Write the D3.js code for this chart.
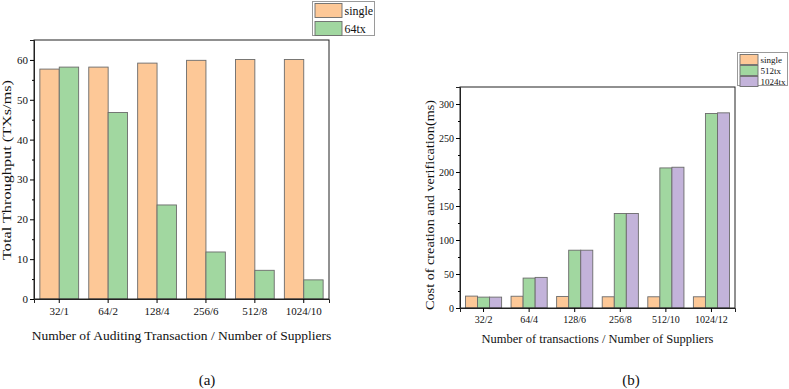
<!DOCTYPE html>
<html><head><meta charset="utf-8">
<script src="https://cdn.jsdelivr.net/npm/d3@7"></script>
<style>body{margin:0;background:#fff}svg{display:block}text{font-family:"Liberation Serif","Times New Roman",serif;fill:#111}</style>
</head><body>
<svg id="c" width="789" height="389"></svg>
<script>
// Chart (a)
const catsA = ["32/1","64/2","128/4","256/6","512/8","1024/10"];
const seriesA = ["single","64tx"];
const singleA = [57.7, 58.2, 59.2, 59.9, 60.1, 60.1];
const tx64A = [58.2, 46.8, 23.6, 11.8, 7.2, 4.8];
const ticksA = [0,10,20,30,40,50,60];
// Chart (b)
const catsB = ["32/2","64/4","128/6","256/8","512/10","1024/12"];
const seriesB = ["single","512tx","1024tx"];
const singleB = [17.5, 17.3, 17.0, 16.5, 16.5, 16.5];
const tx512B = [16, 44, 85, 139, 206, 286];
const tx1024B = [16, 45, 85, 139, 207, 287];
const ticksB = [0,50,100,150,200,250,300];

const colors = {"single":"#FDC897","64tx":"#A1D7A0","512tx":"#A1D7A0","1024tx":"#C3B3DA"};
const svg = d3.select("#c");

function chart(o){
  const {cats, series, data, domain, ticks, minor, box, tickFont, xTitle, yTitle, titleFont, yTitleFont, yTitleLen, yTitleY, yTitleX, label, labelX, legend} = o;
  const g = svg.append("g");
  const x = d3.scaleBand().domain(cats).range([box.l, box.r]).paddingInner(0.207).paddingOuter(0.12);
  const xs = d3.scaleBand().domain(series).range([0, x.bandwidth()]);
  const y = d3.scaleLinear().domain(domain).range([box.b, box.t]);
  series.forEach((s, si) => {
    g.selectAll(null).data(data[si]).enter().append("rect")
      .attr("x", (d,i) => x(cats[i]) + xs(s))
      .attr("y", d => y(d))
      .attr("width", xs.bandwidth())
      .attr("height", d => y(0) - y(d))
      .attr("fill", colors[s])
      .attr("stroke", "#6b6b6b").attr("stroke-width", 0.9);
  });
  g.append("rect").attr("x", box.l).attr("y", box.t).attr("width", box.r-box.l).attr("height", box.b-box.t)
    .attr("fill","none").attr("stroke","#222").attr("stroke-width",1);
  const ya = d3.axisLeft(y).tickValues(ticks).tickSize(4).tickPadding(2);
  const yg = g.append("g").attr("transform", `translate(${box.l},0)`).call(ya);
  yg.select(".domain").attr("stroke","#222");
  yg.selectAll("text").style("font-size", tickFont+"px").style("font-family","Liberation Serif").attr("fill","#111");
  const ym = d3.axisLeft(y).tickValues(minor).tickSize(2).tickFormat("");
  g.append("g").attr("transform", `translate(${box.l},0)`).call(ym).select(".domain").remove();
  const xa = d3.axisBottom(x).tickSize(4).tickPadding(4);
  const xg = g.append("g").attr("transform", `translate(0,${box.b})`).call(xa);
  xg.select(".domain").attr("stroke","#222");
  xg.selectAll("text").style("font-size", tickFont+"px").style("font-family","Liberation Serif").attr("fill","#111");
  g.append("text").attr("x", (box.l+box.r)/2).attr("y", o.xTitleY).attr("text-anchor","middle")
    .style("font-size", titleFont+"px").text(xTitle);
  g.append("text").attr("transform", `translate(${yTitleX},${yTitleY}) rotate(-90)`).attr("text-anchor","middle")
    .attr("dy","0.35em").attr("textLength", yTitleLen).attr("lengthAdjust","spacingAndGlyphs")
    .style("font-size", yTitleFont+"px").text(yTitle);
  g.append("text").attr("x", labelX).attr("y", 385).attr("text-anchor","middle")
    .style("font-size","15px").text(label);
  const L = legend;
  g.append("rect").attr("x", L.x).attr("y", L.y).attr("width", L.w).attr("height", L.h)
    .attr("fill","#fff").attr("stroke","#9a9a9a").attr("stroke-width",1);
  series.forEach((s, i) => {
    g.append("rect").attr("x", L.x+2.5).attr("y", L.y+2+i*L.step).attr("width", L.sw).attr("height", L.sh)
      .attr("fill", colors[s]).attr("stroke","#6b6b6b").attr("stroke-width",0.9);
    g.append("text").attr("x", L.x+5+L.sw).attr("y", L.y+2+i*L.step+L.sh/2).attr("dy","0.35em")
      .style("font-size", L.font+"px").text(s);
  });
}

chart({cats:catsA, series:seriesA, data:[singleA, tx64A], domain:[0,65], ticks:ticksA,
  minor:d3.range(5,65,10), box:{l:34,r:329,t:40,b:299}, tickFont:11,
  xTitle:"Number of Auditing Transaction / Number of Suppliers", xTitleY:340, titleFont:13.5,
  yTitle:"Total Throughput (TXs/ms)", yTitleFont:13.5, yTitleLen:180, yTitleX:6, yTitleY:170, label:"(a)", labelX:207,
  legend:{x:312.5,y:1.5,w:62,h:34,sw:27,sh:14,step:18,font:12}});

chart({cats:catsB, series:seriesB, data:[singleB, tx512B, tx1024B], domain:[0,325], ticks:ticksB,
  minor:d3.range(25,325,50), box:{l:460,r:735,t:87,b:308}, tickFont:10,
  xTitle:"Number of transactions / Number of Suppliers", xTitleY:343, titleFont:12.5,
  yTitle:"Cost of creation and verification(ms)", yTitleFont:11.5, yTitleLen:210, yTitleX:430, yTitleY:205, label:"(b)", labelX:631,
  legend:{x:737.5,y:52.5,w:50,h:33,sw:18,sh:10,step:11,font:9}});
</script>
</body></html>
